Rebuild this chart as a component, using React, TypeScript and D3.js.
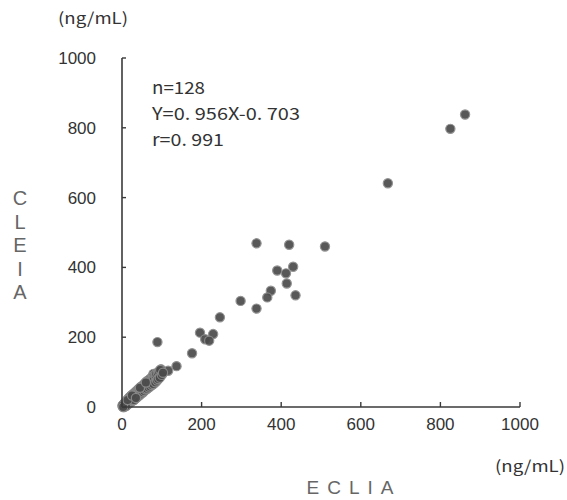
import React from "react";
import * as d3 from "d3";

const xTicks = [0, 200, 400, 600, 800, 1000];
const yTicks = [0, 200, 400, 600, 800, 1000];
const statsLines = ["n=128", "Y=0. 956X-0. 703", "r=0. 991"];
const yTitle = ["C", "L", "E", "I", "A"];
const xTitle = "ECLIA";
const unitLabel = "(ng/mL)";

// ECLIA (x) values, CLEIA (y) values
const eclia = [
  862, 825, 668, 510, 338, 420, 390, 412, 430, 414, 436, 374, 365, 298, 338, 246,
  196, 229, 209, 219, 176, 89, 137, 116, 98, 79,
  2, 3, 4, 5, 5, 6, 7, 8, 8, 9, 10, 11, 12, 12, 13, 14, 15, 15, 16, 17, 18, 18, 19, 20,
  21, 22, 23, 24, 25, 26, 27, 28, 29, 30, 31, 32, 33, 34, 35, 36, 37, 38, 39, 40,
  41, 42, 43, 44, 45, 46, 47, 48, 49, 50, 52, 53, 54, 55, 56, 58, 59, 60, 61, 62,
  63, 65, 66, 67, 68, 70, 71, 72, 74, 75, 76, 78, 79, 80, 82, 84, 85, 86, 88, 90,
  91, 93, 95, 96, 100, 103, 10, 20, 30, 45, 60, 1, 3, 14, 25, 35,
];
const cleia = [
  838, 797, 641, 460, 469, 465, 391, 383, 402, 354, 320, 333, 314, 304, 282, 257,
  213, 209, 194, 190, 154, 186, 117, 104, 108, 95,
  1, 6, 2, 9, 0, 5, 12, 3, 7, 14, 4, 16, 6, 19, 9, 18, 8, 22, 11, 24, 12, 27, 14, 25,
  13, 30, 16, 33, 18, 31, 36, 19, 34, 39, 22, 38, 42, 25, 41, 45, 27, 44, 48, 31,
  47, 52, 33, 50, 55, 36, 53, 58, 39, 56, 61, 42, 59, 65, 46, 63, 69, 50, 66, 73,
  52, 70, 76, 56, 73, 80, 59, 77, 84, 63, 81, 88, 66, 85, 92, 71, 90, 96, 76, 98,
  80, 102, 84, 106, 92, 98, 3, 28, 20, 55, 70, 4, 0, 20, 33, 26,
];

const statsWidths = [53, 148, 72];

export default function App() {
  const W = 567;
  const H = 500;
  const x = d3.scaleLinear().domain([0, 1000]).range([122, 520]);
  const y = d3.scaleLinear().domain([0, 1000]).range([407, 58]);
  const pts = d3.zip(eclia, cleia);
  const axisColor = "#3a3a3a";
  const textColor = "#333";
  const tickFont = "'Liberation Sans', Arial, sans-serif";
  const jpFont = "'Noto Sans CJK JP', 'Noto Sans', sans-serif";

  return (
    <svg width={W} height={H} style={{ display: "block", position: "absolute", left: 0, top: 0, background: "#fff" }}>
      <rect x={0} y={0} width={W} height={H} fill="#fff" />
      {/* unit label top */}
      <text x={93} y={24} textAnchor="middle" fontFamily={jpFont} fontSize={16} fill={textColor} textLength={70} lengthAdjust="spacingAndGlyphs">{unitLabel}</text>

      {/* points */}
      <g>
        {pts.map(([a, b], i) => (
          <circle key={i} cx={x(a)} cy={y(b)} r={4.6} fill="#4a4a4a" stroke="#8a8a8a" strokeWidth={1.2} opacity={0.92} />
        ))}
      </g>

      {/* axes */}
      <line x1={x(0)} y1={y(0)} x2={x(0)} y2={y(1000)} stroke={axisColor} strokeWidth={1.6} />
      <line x1={x(0)} y1={y(0)} x2={x(1000)} y2={y(0)} stroke={axisColor} strokeWidth={1.6} />
      {yTicks.map((t) => (
        <g key={"y" + t}>
          <line x1={x(0)} x2={x(0) + 4} y1={y(t)} y2={y(t)} stroke={axisColor} strokeWidth={1.4} />
          <text x={96} y={y(t)} dy="0.35em" textAnchor="end" fontFamily={tickFont} fontSize={17} fill={textColor}>{t}</text>
        </g>
      ))}
      {xTicks.map((t) => (
        <g key={"x" + t}>
          <line x1={x(t)} x2={x(t)} y1={y(0)} y2={y(0) - 5} stroke={axisColor} strokeWidth={1.4} />
          <text x={x(t)} y={430} textAnchor="middle" fontFamily={tickFont} fontSize={17} fill={textColor}>{t}</text>
        </g>
      ))}

      {/* stats */}
      {statsLines.map((s, i) => (
        <text key={s} x={152} y={94 + i * 26} fontFamily={jpFont} fontSize={17} fill={textColor}
          textLength={statsWidths[i]} lengthAdjust="spacingAndGlyphs">{s}</text>
      ))}

      {/* y title */}
      {yTitle.map((c, i) => (
        <text key={c + i} x={20} y={198 + i * 23.5} dy="0.35em" textAnchor="middle" fontFamily={tickFont} fontSize={20} fontWeight={300} fill="#666">{c}</text>
      ))}

      {/* x title */}
      <text x={354} y={494} textAnchor="middle" fontFamily={tickFont} fontSize={19} fill="#666" letterSpacing={8}>{xTitle}</text>
      <text x={530} y={472} textAnchor="middle" fontFamily={jpFont} fontSize={16} fill={textColor} textLength={70} lengthAdjust="spacingAndGlyphs">{unitLabel}</text>
    </svg>
  );
}
